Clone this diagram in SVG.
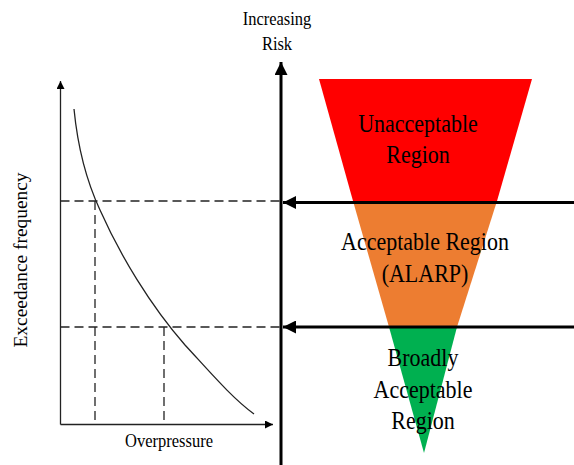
<svg xmlns="http://www.w3.org/2000/svg" width="574" height="465" viewBox="0 0 574 465">
<style>
text{font-family:"Liberation Serif","Times New Roman",serif;fill:#000;}
.lbl{font-size:22px;text-anchor:middle;}
.sm{font-size:16.5px;text-anchor:middle;}
.ax{stroke:#222;stroke-width:1.3;fill:none;}
.dash{stroke:#222;stroke-width:1.3;fill:none;stroke-dasharray:9 5;}
.thick{stroke:#000;stroke-width:3;fill:none;}
</style>
<defs>
<marker id="thin" viewBox="0 0 10 10" refX="10" refY="5" markerWidth="8" markerHeight="8" markerUnits="userSpaceOnUse" orient="auto"><path d="M0,0 L10,5 L0,10 Z" fill="#000"/></marker>
<marker id="big" viewBox="0 0 10 10" refX="10" refY="5" markerWidth="13" markerHeight="13" markerUnits="userSpaceOnUse" orient="auto"><path d="M0,0 L10,5 L0,10 Z" fill="#000"/></marker>
</defs>
<rect width="574" height="465" fill="#fff"/>
<g id="regions">
<polygon id="unacceptable" points="319,79 532,79 497,201 353,201" fill="#ff0000"/>
<polygon id="alarp" points="353,201 497,201 457,327 389,327" fill="#ed7d31"/>
<polygon id="broadly" points="389,327 457,327 424,453" fill="#00b050"/>
</g>
<g id="chart">
<path class="ax" d="M60.5,424.5 V81" marker-end="url(#thin)"/>
<path class="ax" d="M60.5,424.5 H273" marker-end="url(#thin)"/>
<path class="ax" d="M74,109 C78,150 86,180 100,210 C120,255 150,305 185,345 C210,372 232,398 254,414"/>
<path class="dash" d="M60.5,201 H281"/>
<path class="dash" d="M60.5,327 H281"/>
<path class="dash" d="M95,201 V424"/>
<path class="dash" d="M164,327 V424"/>
</g>
<g id="connectors">
<path class="thick" d="M281,465 V62" marker-end="url(#big)"/>
<path class="thick" d="M574,202.5 H283" marker-end="url(#big)"/>
<path class="thick" d="M574,327 H283" marker-end="url(#big)"/>
</g>
<g id="labels">
<text class="sm" transform="translate(277,25) scale(1,1.12)">Increasing</text>
<text class="sm" transform="translate(277,50) scale(1,1.12)">Risk</text>
<text class="lbl" transform="translate(418,132) scale(1,1.15)">Unacceptable</text>
<text class="lbl" transform="translate(418,163) scale(1,1.15)">Region</text>
<text class="lbl" transform="translate(425,250) scale(1,1.15)">Acceptable Region</text>
<text class="lbl" transform="translate(425,282) scale(1,1.15)">(ALARP)</text>
<text class="lbl" transform="translate(423,366) scale(1,1.15)">Broadly</text>
<text class="lbl" transform="translate(423,398) scale(1,1.15)">Acceptable</text>
<text class="lbl" transform="translate(423,429) scale(1,1.15)">Region</text>
<text class="sm" transform="translate(169,447) scale(1,1.12)">Overpressure</text>
<text transform="translate(27,260) rotate(-90) scale(1,1.12)" font-size="17" text-anchor="middle" textLength="175" lengthAdjust="spacingAndGlyphs">Exceedance frequency</text>
</g>
</svg>
